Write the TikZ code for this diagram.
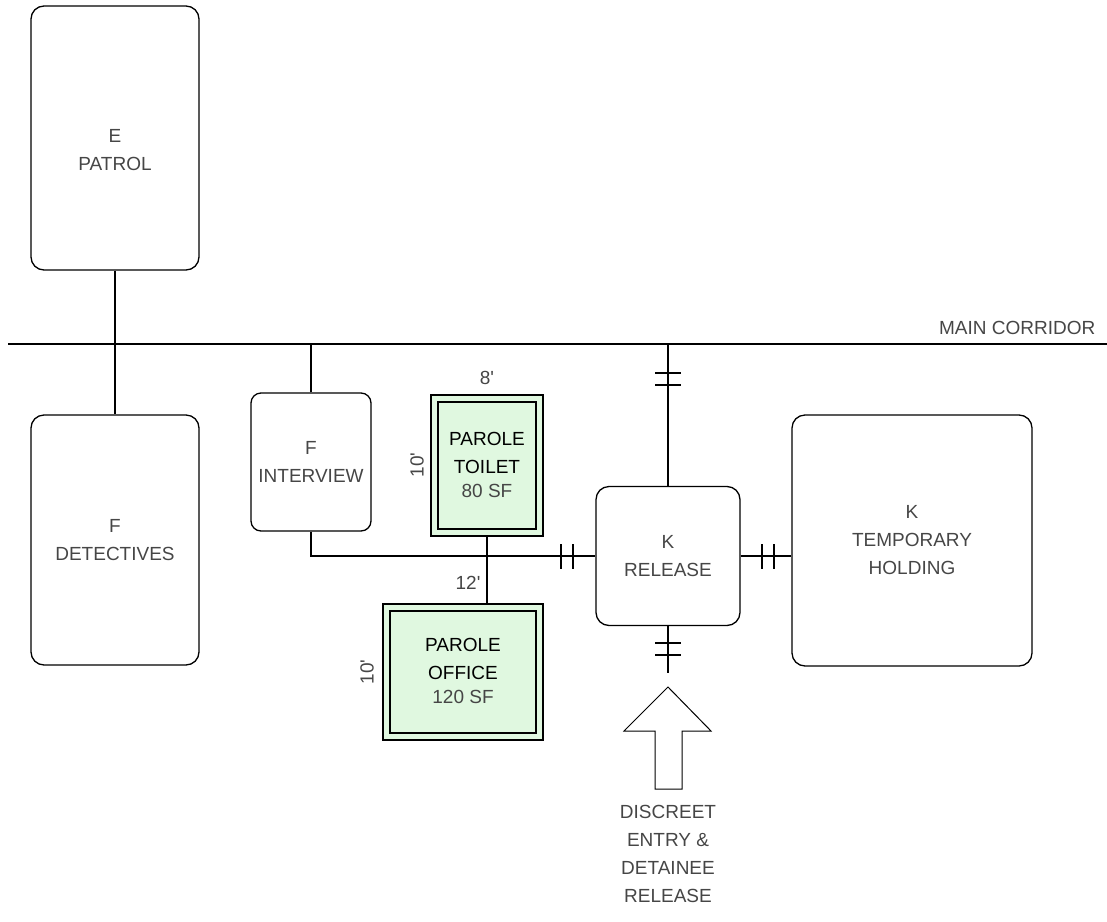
\documentclass[tikz,border=0pt]{standalone}
\usepackage{fontspec}
\setmainfont{Liberation Sans}
\newfontfamily\dimfont{Liberation Sans}
\usetikzlibrary{calc}
\definecolor{roomgreen}{RGB}{224,248,224}
\definecolor{inkgray}{RGB}{70,70,70}
\begin{document}
\begin{tikzpicture}[x=1pt,y=-1pt,
  line width=1.3pt,
  every node/.style={font=\fontsize{19}{28}\selectfont, text=inkgray, align=center, inner sep=0pt},
  room/.style={draw=black, rounded corners=13pt, line width=1.3pt},
  greenout/.style={draw=black, fill=roomgreen, line width=1.2pt},
  greenin/.style={draw=black, line width=1.6pt},
  wire/.style={draw=black, line width=1.3pt},
  tick/.style={draw=black, line width=1.3pt},
  dim/.style={font=\dimfont\fontsize{19}{22}\selectfont, text=inkgray}]
\useasboundingbox (0,0) rectangle (1107,921);

% main corridor
\coordinate (cw) at (8,344);
\coordinate (ce) at (1107,344);
\draw[wire] (cw) -- (ce);
\node[anchor=south east] (corr) at (1096,335) {MAIN CORRIDOR};

% rooms
\node[room, minimum width=168pt, minimum height=264pt] (patrol) at (115,138) {};
\node (patroltxt) at (115,150) {E\\PATROL};
\node[room, minimum width=168pt, minimum height=250pt] (det) at (115,540) {F\\DETECTIVES};
\node[room, minimum width=120pt, minimum height=138pt, rounded corners=10pt] (interview) at (311,462) {F\\INTERVIEW};
\node[room, minimum width=144pt, minimum height=139pt] (release) at (668,556) {K\\RELEASE};
\node[room, minimum width=240pt, minimum height=251pt] (holding) at (912,540.5) {K\\TEMPORARY\\HOLDING};

% parole toilet
\node[greenout, minimum width=112pt, minimum height=141pt] (toilet) at (487,465.5) {};
\node[greenin, minimum width=98pt, minimum height=127pt] (toiletin) at (487,465.5) {};
\node (toilettxt) at (487,465) {\textcolor{black}{PAROLE}\\\textcolor{black}{TOILET}\\[-4pt]80 SF};
\node[dim] (toiletw) at (487,378) {8'};
\node[dim, rotate=90] (toileth) at (417,465) {10'};

% parole office
\node[greenout, minimum width=160pt, minimum height=136pt] (office) at (463,672) {};
\node[greenin, minimum width=146pt, minimum height=122pt] (officein) at (463,672) {};
\node (officetxt) at (463,671) {\textcolor{black}{PAROLE}\\\textcolor{black}{OFFICE}\\[-4pt]120 SF};
\node[dim] (officew) at (468,583) {12'};
\node[dim, rotate=90] (officeh) at (367,672) {10'};

% connectors
\draw[wire] (patrol.south) -- (det.north);
\draw[wire] (interview.north) -- (interview.north |- cw);
\draw[wire] (interview.south) |- (release.west);
\draw[wire] (toilet.south) -- (toilet.south |- office.north);
\draw[wire] (release.north) -- (release.north |- cw);
\draw[wire] (release.east) -- (release.east -| holding.west);
\coordinate (rbot) at (668,673);
\draw[wire] (release.south) -- (rbot);

% door ticks
\foreach \ty in {373,385} \draw[tick] (655,\ty) -- (681,\ty);
\foreach \ty in {643,655} \draw[tick] (655,\ty) -- (681,\ty);
\foreach \tx in {561,573} \draw[tick] (\tx,544) -- (\tx,569);
\foreach \tx in {762,774} \draw[tick] (\tx,544) -- (\tx,569);

% entry arrow
\draw[line width=1pt, line join=miter] (655,789) -- (655,731) -- (624,731) -- (668,687) -- (711,731) -- (682,731) -- (682,789) -- cycle;
\node (entrytxt) at (668,854) {DISCREET\\ENTRY \&\\DETAINEE\\RELEASE};
\end{tikzpicture}
\end{document}
